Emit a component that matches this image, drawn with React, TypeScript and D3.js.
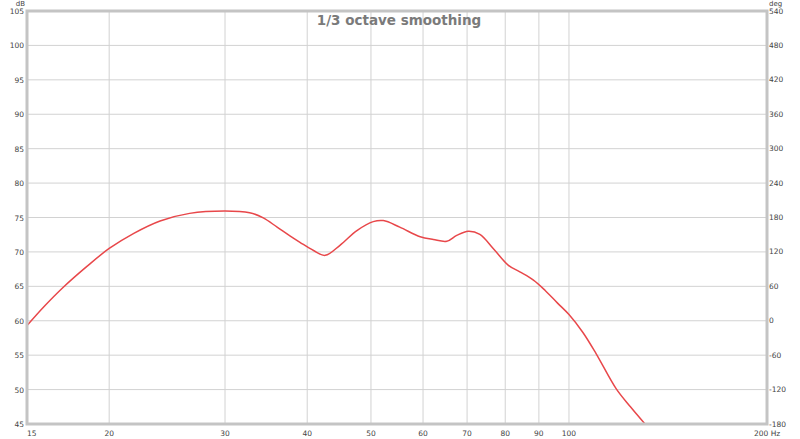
import React from "react";
import * as d3 from "d3";

const freqs = [15, 15.9, 17, 18.5, 20, 21.8, 23.9, 26.5, 30, 32.7, 34.3, 36, 37.7, 39, 40.9, 42.6, 44.9, 47.6, 50.4, 52.2, 55.3, 59.4, 62.2, 65.2, 67.5, 70.3, 73.2, 76.7, 80.9, 84.2, 88.3, 92, 96, 100, 105, 110, 118, 124, 130.5];
const levels = [59.3, 62.0, 64.8, 67.9, 70.5, 72.7, 74.5, 75.6, 75.95, 75.7, 74.95, 73.6, 72.3, 71.4, 70.2, 69.5, 71.0, 73.1, 74.4, 74.55, 73.6, 72.2, 71.8, 71.55, 72.4, 73.0, 72.55, 70.5, 68.05, 67.1, 65.9, 64.4, 62.6, 60.9, 58.3, 55.2, 50.1, 47.5, 45.0];
const xTicks = [15, 20, 30, 40, 50, 60, 70, 80, 90, 100, 200];
const dbTicks = [45, 50, 55, 60, 65, 70, 75, 80, 85, 90, 95, 100, 105];
const degTicks = [-180, -120, -60, 0, 60, 120, 180, 240, 300, 360, 420, 480, 540];
const title = "1/3 octave smoothing";

const W = 800, H = 439;
const L = 27, R = 767, T = 11, B = 424;

export default function App() {
  const x = d3.scaleLog().domain([15, 200]).range([L, R]);
  const y = d3.scaleLinear().domain([45, 105]).range([B, T]);
  const yDeg = d3.scaleLinear().domain([-180, 540]).range([B, T]);
  const pts = freqs.map((f, i) => [f, levels[i]] as [number, number]);
  const line = d3.line<[number, number]>().x(d => x(d[0])).y(d => y(d[1])).curve(d3.curveCatmullRom.alpha(0.5));
  const font = "'DejaVu Sans', Verdana, sans-serif";
  return (
    <svg width={W} height={H} style={{ position: "absolute", left: 0, top: 0, background: "#fff" }} fontFamily={font}>
      <rect x={0} y={0} width={W} height={H} fill="#fff" />
      {dbTicks.map(t => (
        <line key={"h" + t} x1={L} x2={R} y1={y(t)} y2={y(t)} stroke="#d2d2d2" strokeWidth={1} />
      ))}
      {xTicks.map(t => (
        <line key={"v" + t} x1={x(t)} x2={x(t)} y1={T} y2={B} stroke="#d2d2d2" strokeWidth={1} />
      ))}
      <text x={(L + R) / 2 + 2} y={25} textAnchor="middle" fontSize={13.5} fontWeight="bold" fill="#7a7a7a">{title}</text>
      <path d={line(pts) || ""} fill="none" stroke="#e8474a" strokeWidth={1.5} />
      <rect x={L} y={T} width={R - L} height={B - T} fill="none" stroke="#c4c4c4" strokeWidth={3} />
      {dbTicks.map(t => (
        <text key={"ld" + t} x={24} y={y(t) + 3} textAnchor="end" fontSize={7.5} fill="#444">{t}</text>
      ))}
      {degTicks.map(t => (
        <text key={"rd" + t} x={769} y={yDeg(t) + 2.5} textAnchor="start" fontSize={7.5} fill="#444">{t}</text>
      ))}
      {xTicks.map(t => (
        <text key={"xt" + t} x={t === 15 ? L : t === 200 ? 754 : x(t)} y={435.5} textAnchor={t === 15 || t === 200 ? "start" : "middle"} fontSize={7.5} fill="#444">
          {t === 200 ? "200 Hz" : t}
        </text>
      ))}
      <text x={25} y={5.5} textAnchor="end" fontSize={7} fill="#444">dB</text>
      <text x={769} y={5.5} textAnchor="start" fontSize={7} fill="#444">deg</text>
    </svg>
  );
}
